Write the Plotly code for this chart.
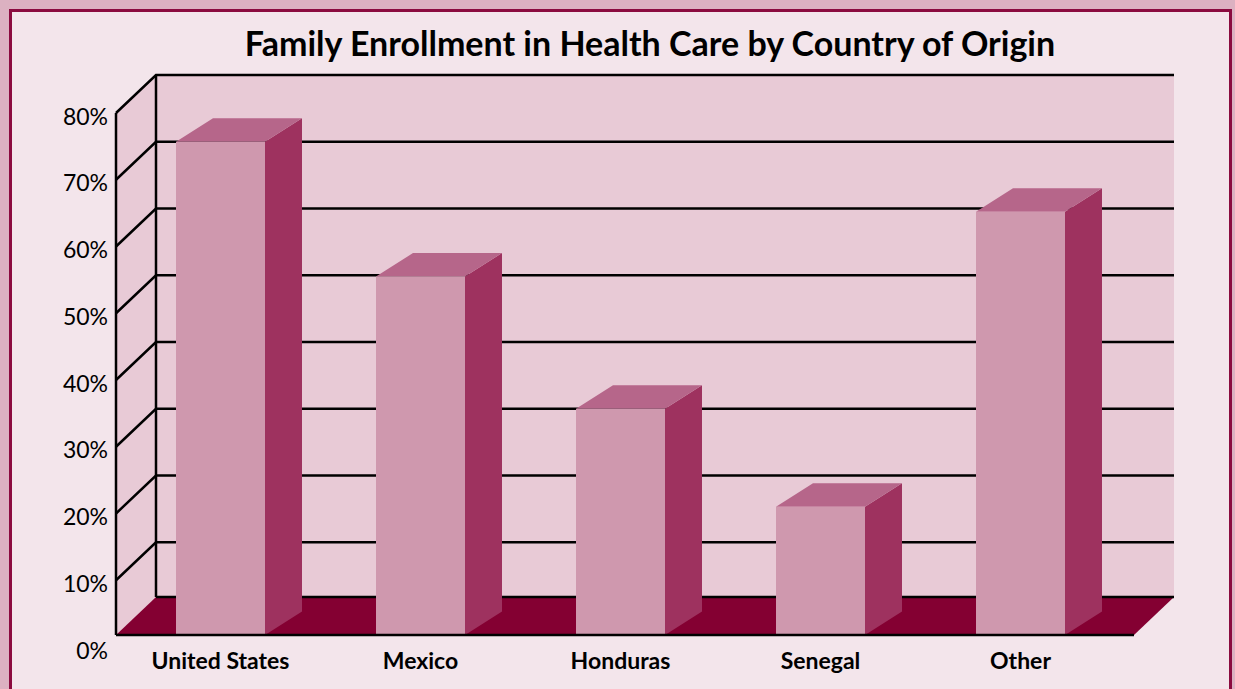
import plotly.graph_objects as go

# ---------------- data ----------------
categories = ["United States", "Mexico", "Honduras", "Senegal", "Other"]
values = [75.7, 55.5, 35.7, 21.0, 65.2]          # percent enrolled
y_ticks = [0, 10, 20, 30, 40, 50, 60, 70, 80]    # percent
y_tick_labels = [f"{t}%" for t in y_ticks]
title_text = "Family Enrollment in Health Care by Country of Origin"

# ---------------- style / geometry (pixel-based layout constants) ----------------
W, H = 1235, 689
X0PX, XSTEP = 220.5, 200.0      # pixel of category 0, pixels per category
Y0PX, YSTEP = 647.0, 6.675      # pixel of 0%, pixels per percent
LABEL_SHIFT = 3.5               # tick labels sit slightly below their ticks

FRONT_LEFT = (116 - X0PX) / XSTEP
FRONT_RIGHT = (1134 - X0PX) / XSTEP
FLOOR = (Y0PX - 635) / YSTEP    # floor slab top level
WALL_DX = 40 / XSTEP
WALL_DY = 38 / YSTEP
BAR_W = 89 / XSTEP
BAR_DX = 37 / XSTEP
BAR_DY = 23.5 / YSTEP
YMAX = max(y_ticks)

C_OUTER = "#dcb1c1"
C_BORDER = "#8b0b3f"
C_INNER = "#f3e5eb"
C_WALL = "#e8cad6"
C_FLOOR = "#840032"
C_FRONT = "#cf98ae"
C_SIDE = "#9e325f"
C_TOP = "#b6668a"
FONT = "Lato"

fig = go.Figure()


def poly(xs, ys, color, name):
    fig.add_trace(go.Scatter(x=xs, y=ys, mode="lines", fill="toself",
                             fillcolor=color, line=dict(width=0, color=color),
                             hoverinfo="skip", showlegend=False, name=name))


def lines(xs, ys, width=2.5, name="lines"):
    fig.add_trace(go.Scatter(x=xs, y=ys, mode="lines",
                             line=dict(color="black", width=width),
                             hoverinfo="skip", showlegend=False, name=name))


# back wall
bl, br = FRONT_LEFT + WALL_DX, FRONT_RIGHT + WALL_DX
poly([bl, br, br, bl], [FLOOR + WALL_DY, FLOOR + WALL_DY, YMAX + WALL_DY, YMAX + WALL_DY],
     C_WALL, "back wall")
# left wall
poly([FRONT_LEFT, bl, bl, FRONT_LEFT], [FLOOR, FLOOR + WALL_DY, YMAX + WALL_DY, YMAX],
     C_WALL, "left wall")

# gridlines: back wall horizontals + left wall slants
gx, gy = [], []
for t in y_ticks:
    if t <= FLOOR:
        continue
    gx += [FRONT_LEFT, bl, br, None]
    gy += [t, t + WALL_DY, t + WALL_DY, None]
# back wall left edge and front axis
gx += [bl, bl, None, FRONT_LEFT, FRONT_LEFT, None]
gy += [FLOOR + WALL_DY, YMAX + WALL_DY, None, FLOOR, YMAX, None]
lines(gx, gy, name="grid")

# floor
poly([FRONT_LEFT, FRONT_RIGHT, br, bl], [FLOOR, FLOOR, FLOOR + WALL_DY, FLOOR + WALL_DY],
     C_FLOOR, "floor")
lines([bl, br], [FLOOR + WALL_DY, FLOOR + WALL_DY], name="floor back edge")

# bars
fx, fy, sx, sy, tx, ty = [], [], [], [], [], []
for i, v in enumerate(values):
    x0, x1 = i - BAR_W / 2, i + BAR_W / 2
    fx += [x0, x1, x1, x0, None]
    fy += [FLOOR, FLOOR, v, v, None]
    sx += [x1, x1 + BAR_DX, x1 + BAR_DX, x1, None]
    sy += [FLOOR, FLOOR + BAR_DY, v + BAR_DY, v, None]
    tx += [x0, x1, x1 + BAR_DX, x0 + BAR_DX, None]
    ty += [v, v, v + BAR_DY, v + BAR_DY, None]
poly(sx, sy, C_SIDE, "bar sides")
poly(tx, ty, C_TOP, "bar tops")
poly(fx, fy, C_FRONT, "bar fronts")

# floor front edge
lines([FRONT_LEFT, FRONT_RIGHT], [FLOOR, FLOOR], name="floor front edge")

# invisible anchor trace for the tick-label axis
fig.add_trace(go.Scatter(x=[0], y=[0], yaxis="y2", mode="markers",
                         marker=dict(opacity=0), hoverinfo="skip", showlegend=False))

LBL0PX = Y0PX + LABEL_SHIFT
fig.update_layout(
    width=W, height=H,
    margin=dict(l=0, r=0, t=0, b=0),
    paper_bgcolor=C_OUTER,
    plot_bgcolor="rgba(0,0,0,0)",
    title=dict(text=title_text, x=650 / W, y=1 - 44 / H, xanchor="center", yanchor="middle",
               font=dict(family=FONT, size=34, color="black", weight="bold")),
    xaxis=dict(range=[-X0PX / XSTEP, (W - X0PX) / XSTEP], domain=[0, 1],
               anchor="free", position=(H - 645) / H,
               tickvals=list(range(len(categories))), ticktext=categories,
               tickfont=dict(family=FONT, size=23, color="black", weight="bold"),
               showgrid=False, zeroline=False, showline=False, ticks=""),
    yaxis=dict(range=[(Y0PX - H) / YSTEP, Y0PX / YSTEP], domain=[0, 1],
               showgrid=False, zeroline=False, showline=False, showticklabels=False, ticks=""),
    yaxis2=dict(range=[(LBL0PX - H) / YSTEP, LBL0PX / YSTEP], domain=[0, 1],
                overlaying="y", anchor="free", position=116 / W, side="left",
                tickvals=y_ticks, ticktext=y_tick_labels,
                tickfont=dict(family=FONT, size=23, color="black"),
                ticklabelstandoff=8,
                showgrid=False, zeroline=False, showline=False, ticks=""),
    shapes=[dict(type="rect", xref="paper", yref="paper", layer="below",
                 x0=10.5 / W, x1=1230.5 / W, y0=1 - 10.5 / H, y1=-0.05,
                 fillcolor=C_INNER, line=dict(color=C_BORDER, width=3))],
    showlegend=False,
)

fig.write_html("out.html", config={"displayModeBar": False},
               post_script="document.body.style.margin='0px';")
